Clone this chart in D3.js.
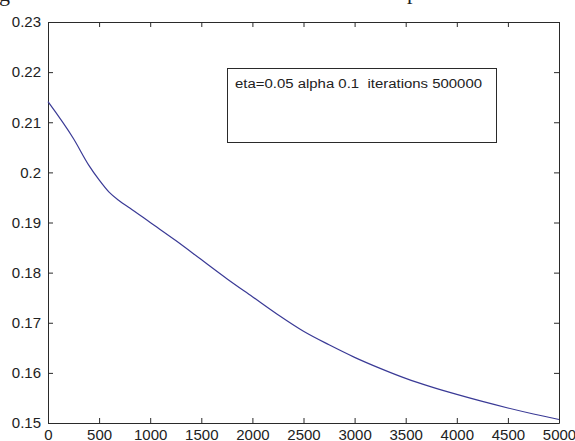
<!DOCTYPE html>
<html>
<head>
<meta charset="utf-8">
<script src="https://cdn.jsdelivr.net/npm/d3@7"></script>
<style>
  body { margin: 0; background: #fff; }
  svg { display: block; }
  text { font-family: "Liberation Sans", Arial, sans-serif; fill: #222; }
</style>
</head>
<body>
<svg id="chart" width="575" height="441"></svg>
<script>
// iteration (x) and error (y)
const iters = [0, 250, 400, 500, 600, 700, 800, 1000, 1250, 1500, 1750, 2000, 2250,
               2500, 2750, 3000, 3250, 3500, 3750, 4000, 4250, 4500, 4750, 5000];
const errs = [0.2141, 0.2067, 0.2014, 0.1985, 0.1960, 0.1943, 0.1929, 0.1900, 0.1864,
              0.1826, 0.1788, 0.1752, 0.1716, 0.1683, 0.1656, 0.1631, 0.1609, 0.1589, 0.1572,
              0.1557, 0.1543, 0.1530, 0.1518, 0.1507];
const xTicks = [0, 500, 1000, 1500, 2000, 2500, 3000, 3500, 4000, 4500, 5000];
const yTicks = [0.15, 0.16, 0.17, 0.18, 0.19, 0.2, 0.21, 0.22, 0.23];
const legendText = "eta=0.05 alpha 0.1  iterations 500000";

const svg = d3.select('#chart');
const plot = { left: 48, top: 22, right: 559, bottom: 423 };

const x = d3.scaleLinear().domain([0, 5000]).range([plot.left, plot.right]);
const y = d3.scaleLinear().domain([0.15, 0.23]).range([plot.bottom, plot.top]);

// clipped title from the page above
svg.append('text').attr('x', -1).attr('y', 1)
    .style('font-family', '"Liberation Serif", serif').style('font-size', '22px').text('g');
svg.append('text').attr('x', 407).attr('y', -1)
    .style('font-family', '"Liberation Serif", serif').style('font-size', '22px').text('p');

// axes, ticks pointing inward
const tickLen = 5;
const fmtY = d => d === 0.2 ? '0.2' : d3.format('.2f')(d);

const axBottom = svg.append('g').attr('transform', `translate(0,${plot.bottom})`)
    .call(d3.axisBottom(x).tickValues(xTicks).tickSizeInner(-tickLen).tickSizeOuter(0)
        .tickPadding(6).tickFormat(d3.format('d')));
const axTop = svg.append('g').attr('transform', `translate(0,${plot.top})`)
    .call(d3.axisTop(x).tickValues(xTicks).tickSizeInner(-tickLen).tickSizeOuter(0).tickFormat(''));
const axLeft = svg.append('g').attr('transform', `translate(${plot.left},0)`)
    .call(d3.axisLeft(y).tickValues(yTicks).tickSizeInner(-tickLen).tickSizeOuter(0).tickPadding(7).tickFormat(fmtY));
const axRight = svg.append('g').attr('transform', `translate(${plot.right},0)`)
    .call(d3.axisRight(y).tickValues(yTicks).tickSizeInner(-tickLen).tickSizeOuter(0).tickFormat(''));

[axBottom, axTop, axLeft, axRight].forEach(a => {
    a.selectAll('path, line').attr('stroke', '#2a2a2a');
    a.selectAll('text').style('font-size', '15px').attr('fill', '#222')
        .style('font-family', '"Liberation Sans", Arial, sans-serif');
});

// curve
svg.append('path')
    .datum(iters.map((d, i) => [d, errs[i]]))
    .attr('fill', 'none')
    .attr('stroke', '#3a3a96')
    .attr('stroke-width', 1.2)
    .attr('d', d3.line().x(d => x(d[0])).y(d => y(d[1])).curve(d3.curveMonotoneX));

// annotation box
svg.append('rect')
    .attr('x', 227.5).attr('y', 68.5).attr('width', 269).attr('height', 74)
    .attr('fill', '#fff').attr('stroke', '#2a2a2a');
svg.append('text')
    .attr('x', 235).attr('y', 88)
    .style('font-size', '12.5px')
    .attr('textLength', 247).attr('lengthAdjust', 'spacingAndGlyphs')
    .style('white-space', 'pre')
    .text(legendText);
</script>
</body>
</html>
